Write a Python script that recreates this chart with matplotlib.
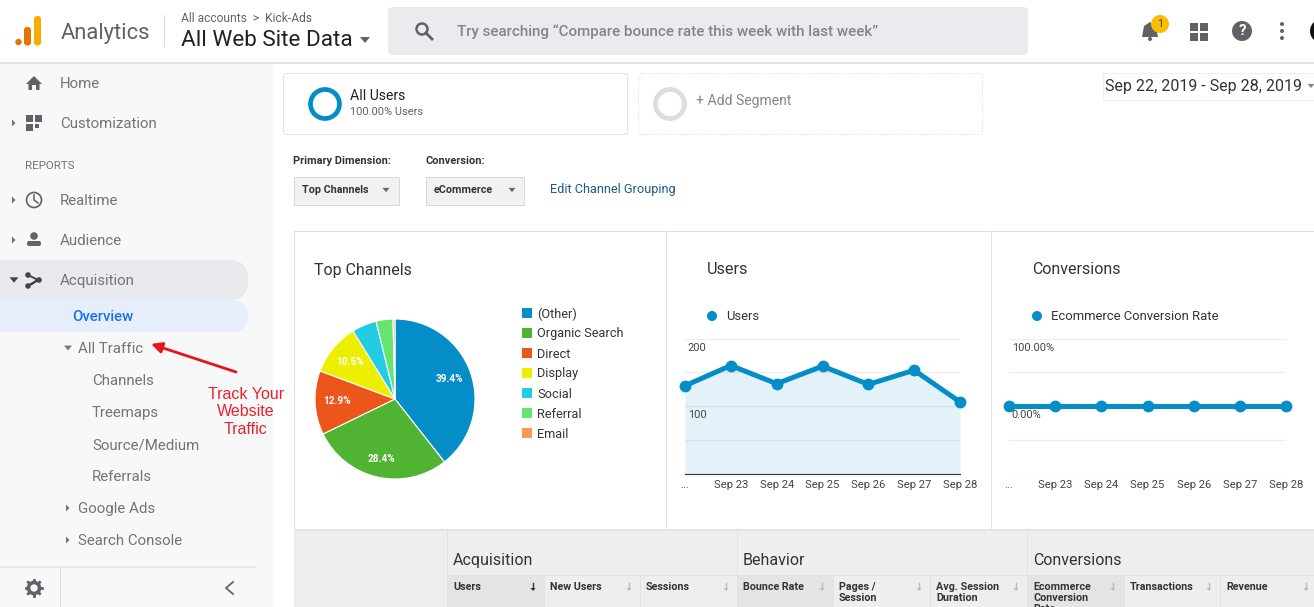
import matplotlib
matplotlib.use("Agg")
import matplotlib.pyplot as plt
from matplotlib.patches import Rectangle, FancyBboxPatch, Circle, Polygon

W, H = 1314, 607

# ---------------------------------
# Data
# ---------------------------------
channels = ["(Other)", "Organic Search", "Direct", "Display", "Social", "Referral", "Email"]
channel_share = [39.4, 28.4, 12.9, 10.5, 5.0, 3.4, 0.4]
channel_colors = ["#058dc7", "#50b432", "#ed561b", "#edef00", "#24cbe5", "#64e572", "#ff9655"]
share_labels = ["39.4%", "28.4%", "12.9%", "10.5%"]

day_labels = ["...", "Sep 23", "Sep 24", "Sep 25", "Sep 26", "Sep 27", "Sep 28"]
users = [130, 160, 133, 159, 132, 153, 106]
conv_rate = [0, 0, 0, 0, 0, 0, 0]

nav_main = ["Home", "Customization"]
nav_reports = ["Realtime", "Audience", "Acquisition"]
nav_traffic = ["Channels", "Treemaps", "Source/Medium", "Referrals"]
nav_more = ["Google Ads", "Search Console"]

table_groups = ["Acquisition", "Behavior", "Conversions"]
table_cols = ["Users", "New Users", "Sessions", "Bounce Rate", "Pages /\nSession",
              "Avg. Session\nDuration", "Ecommerce\nConversion\nRate", "Transactions", "Revenue"]

plt.rcParams["font.family"] = ["Roboto", "DejaVu Sans"]
BLUE = "#058dc7"
GREY = "#5f6368"
DARK = "#212121"

fig = plt.figure(figsize=(W / 100, H / 100), dpi=100)
bg = fig.add_axes([0, 0, 1, 1])
bg.set_xlim(0, W)
bg.set_ylim(H, 0)
bg.axis("off")


def px(size):
    return size * 0.72


def txt(x, y, s, size=13, color=DARK, ha="left", va="center", **kw):
    return bg.text(x, y + 1, s, fontsize=px(size), color=color, ha=ha, va=va, **kw)


def box(x0, y0, x1, y1, fc="none", ec="none", lw=0.72, z=1, **kw):
    bg.add_patch(Rectangle((x0, y0), x1 - x0, y1 - y0, fc=fc, ec=ec, lw=lw, zorder=z, **kw))


def rbox(x0, y0, x1, y1, r, fc="none", ec="none", lw=0.72, z=1, **kw):
    bg.add_patch(FancyBboxPatch((x0 + r, y0 + r), x1 - x0 - 2 * r, y1 - y0 - 2 * r,
                                boxstyle=f"round,pad={r},rounding_size={r}",
                                fc=fc, ec=ec, lw=lw, zorder=z, **kw))


def tri(x, y, s, kind="right", color="#757575"):
    if kind == "right":
        pts = [(x, y - s), (x + s, y), (x, y + s)]
    else:
        pts = [(x - s, y - s * 0.6), (x + s, y - s * 0.6), (x, y + s * 0.6)]
    bg.add_patch(Polygon(pts, fc=color, ec="none", zorder=4))


def sub_axes(x0, y0, x1, y1):
    return fig.add_axes([x0 / W, 1 - y1 / H, (x1 - x0) / W, (y1 - y0) / H])


# ---------------------------------
# Header
# ---------------------------------
box(0, 62, W, 64, fc="#e4e5e8", z=2)
bg.add_patch(Circle((18.5, 42), 3.2, fc="#e37400", ec="none"))
rbox(24, 27, 31, 45.5, 3, fc="#e37400")
rbox(34, 16, 41, 45.5, 3, fc="#f9ab00")
txt(61, 33, "Analytics", 22, "#5f6368")
box(164, 15, 165, 47, fc="#dadce0")
txt(181, 17, "All accounts  >  Kick-Ads", 12, "#5f6368")
txt(181, 39, "All Web Site Data", 22.5, DARK)
tri(365, 40, 5, "down", "#5f6368")

rbox(388, 7, 1028, 55, 5, fc="#e9ebee")
bg.add_patch(Circle((422, 29), 5.5, fc="none", ec=GREY, lw=1.8, zorder=3))
bg.plot([426, 432], [33, 39], color=GREY, lw=2, zorder=3)
txt(457, 31, "Try searching “Compare bounce rate this week with last week”", 15.15, "#80868b",
    fontweight="medium")

# bell, apps, help, menu, avatar
bg.add_patch(Polygon([(1142, 37), (1144, 26), (1150, 22), (1156, 26), (1158, 37)],
                     fc=GREY, ec="none", zorder=3))
bg.add_patch(Circle((1150, 39), 2, fc=GREY, ec="none", zorder=3))
bg.add_patch(Circle((1160, 24), 9, fc="#fbbc04", ec="none", zorder=4))
txt(1160, 23, "1", 11, "#444444", ha="center", zorder=5)
for gx in (1190, 1200):
    for gy in (23, 33):
        box(gx, gy, gx + 7.5, gy + 7.5, fc=GREY, z=3)
bg.add_patch(Circle((1242, 31), 10, fc=GREY, ec="none", zorder=3))
txt(1242, 30, "?", 15, "white", ha="center", fontweight="bold", zorder=4)
for gy in (24, 31, 38):
    bg.add_patch(Circle((1282, gy), 2, fc=GREY, ec="none", zorder=3))
bg.add_patch(Circle((1322, 31), 12, fc="#111111", ec="none", zorder=3))

# ---------------------------------
# Sidebar
# ---------------------------------
box(0, 64, 273, H, fc="#f7f8fa", z=0)
NAV = "#70757a"
txt(60, 83, nav_main[0], 15, NAV)
txt(60, 123, nav_main[1], 15, NAV)
txt(25, 165, "REPORTS", 11.5, NAV)

rbox(-30, 260, 248, 300, 19, fc="#e8eaed")
rbox(-30, 300, 248, 332, 16, fc="#e6eefb")

for yy, name in zip((200, 240, 280), nav_reports):
    txt(60, yy, name, 15, NAV)
txt(72, 316, "Overview", 15, "#1a73e8", fontweight="medium")
txt(78, 348, "All Traffic", 15, NAV)
for yy, name in zip((380, 412, 444, 476), nav_traffic):
    txt(92, yy, name, 15, NAV)
for yy, name in zip((508, 540), nav_more):
    txt(78, yy, name, 15, NAV)
    tri(66, yy, 3.5)

for yy in (123, 200, 240):
    tri(12, yy, 3.5)
tri(14, 280, 4.5, "down", "#444444")
tri(68, 348, 4, "down")

# sidebar icons
bg.add_patch(Polygon([(26, 84), (34, 76), (42, 84), (39.5, 84), (39.5, 90), (36, 90), (36, 85),
                      (32, 85), (32, 90), (28.5, 90), (28.5, 84)], fc=GREY, ec="none", zorder=3))
box(26, 115, 33, 122, fc=GREY, z=3)
box(35, 115, 42, 122, fc=GREY, z=3)
box(26, 124, 33, 131, fc=GREY, z=3)
box(35, 124, 39, 128, fc=GREY, z=3)
bg.add_patch(Circle((34, 200), 7.5, fc="none", ec=GREY, lw=1.2, zorder=3))
bg.plot([34, 34, 38], [195, 200, 203], color=GREY, lw=1.1, zorder=3)
bg.add_patch(Circle((34, 236), 3.8, fc=GREY, ec="none", zorder=3))
rbox(27, 241, 41, 246, 2, fc=GREY, z=3)
bg.plot([28, 38, 28, 38], [275, 280, 286, 280], color="#444444", lw=1.4, zorder=3)
for cx, cy in ((28, 275), (39, 280), (28, 286)):
    bg.add_patch(Circle((cx, cy), 2.8, fc="#444444", ec="none", zorder=3))

# arrow and note
bg.annotate("", xy=(151, 344), xytext=(236, 372), zorder=6,
            arrowprops=dict(arrowstyle="-|>", color="#e8141c", lw=2, mutation_scale=16, shrinkA=0, shrinkB=0))
bg.text(246, 412, "Track Your\nWebsite\nTraffic", fontsize=px(16), color="#e8232a", ha="center",
        va="center", family="Liberation Sans", linespacing=1.22, zorder=6)

# footer of sidebar
box(0, 566, 256, 568, fc="#e6e7ea", z=2)
box(60, 568, 61, H, fc="#dfe0e3", z=2)
bg.add_patch(Circle((34, 588), 5.5, fc="none", ec=GREY, lw=2.6, zorder=3))
for dx, dy in ((0, 8), (0, -8), (8, 0), (-8, 0), (5.7, 5.7), (-5.7, 5.7), (5.7, -5.7), (-5.7, -5.7)):
    bg.plot([34 + dx * 0.8, 34 + dx], [588 + dy * 0.8, 588 + dy], color=GREY, lw=2, zorder=3)
bg.plot([233, 226, 233], [582, 588, 594], color=GREY, lw=1.3, zorder=3)

# ---------------------------------
# Segments and controls
# ---------------------------------
rbox(283.5, 73.5, 627.5, 134.5, 3, fc="white", ec="#dcdee1", lw=0.6)
bg.add_patch(Circle((325, 104), 14.5, fc="none", ec=BLUE, lw=3.4, zorder=3))
txt(350, 95, "All Users", 14, DARK)
txt(350, 111, "100.00% Users", 11, "#5f6368")
rbox(638.5, 73.5, 982.5, 134.5, 3, fc="white", ec="#dcdee1", lw=0.6, ls=(0, (2, 2)))
bg.add_patch(Circle((670, 104), 14.5, fc="none", ec="#dddddd", lw=3.4, zorder=3))
txt(696, 100, "+ Add Segment", 14, "#80868b")

box(1102.5, 72.5, W + 5, 100, fc="white", ec="#efefef", z=1)
txt(1105, 85.5, "Sep 22, 2019 - Sep 28, 2019", 16, "#333333")
tri(1311, 86, 3.5, "down", "#888888")

txt(293, 160, "Primary Dimension:", 11, "#333333", fontweight="bold")
txt(425, 160, "Conversion:", 11, "#333333", fontweight="bold")
box(293.5, 176.5, 398.5, 204.5, fc="#f1f1f1", ec="#d9d9d9")
box(425.5, 176.5, 523.5, 204.5, fc="#f1f1f1", ec="#d9d9d9")
txt(302, 189, "Top Channels", 10.8, "#333333", fontweight="bold")
txt(434, 189, "eCommerce", 10.8, "#333333", fontweight="bold")
tri(386, 190, 3.5, "down", "#666666")
tri(512, 190, 3.5, "down", "#666666")
txt(550, 189, "Edit Channel Grouping", 12.8, "#22588c")

# ---------------------------------
# Chart panels
# ---------------------------------
box(293.5, 230.5, 1320, 530, fc="white", ec="#dddddd")
box(666, 231, 667, 530, fc="#e2e2e2", z=2)
box(991, 231, 992, 530, fc="#e2e2e2", z=2)
txt(314, 269, "Top Channels", 16, "#333333")
txt(707, 269, "Users", 16.3, "#333333")
txt(1032, 269, "Conversions", 16, "#333333")

# pie chart
ax_pie = sub_axes(315, 319, 475, 479)
ax_pie.pie(channel_share, colors=channel_colors, startangle=90, counterclock=False, radius=1,
           wedgeprops=dict(edgecolor="white", linewidth=0.8))
ax_pie.set_xlim(-1, 1)
ax_pie.set_ylim(-1, 1)
for lab, (lx, ly) in zip(share_labels, [(449, 379), (381, 459), (337, 401), (350, 362)]):
    ax_pie.text((lx - 395) / 80, (399 - ly) / 80, lab, fontsize=px(10), color="white",
                ha="center", va="center", fontweight="bold", zorder=7)

for i, name in enumerate(channels):
    yy = 313 + i * 20
    box(522, yy - 5, 532, yy + 5, fc=channel_colors[i], z=3)
    txt(537, yy, name, 12.8, "#333333")

# line charts
bg.add_patch(Circle((712, 316), 5, fc=BLUE, ec="none"))
txt(726, 316, "Users", 13, "#333333")
bg.add_patch(Circle((1037, 316), 5, fc=BLUE, ec="none"))
txt(1051, 316, "Ecommerce Conversion Rate", 13, "#333333")


def line_chart(x0, x1, values, ymin, ymax, fill, dark_base):
    ax = sub_axes(x0, 338.5, x1, 473.5)
    ax.patch.set_alpha(0)
    xs = list(range(len(values)))
    ax.set_xlim(0, len(values) - 1)
    ax.set_ylim(ymin, ymax)
    step = (ymax - ymin) / 4
    for k in range(5):
        ax.axhline(ymin + k * step, color="#eeeeee", lw=1, zorder=1)
    if fill:
        ax.fill_between(xs, values, ymin, color=BLUE, alpha=0.11, lw=0, zorder=2)
    ax.plot(xs, values, color=BLUE, lw=3.6, marker="o", ms=7.5, clip_on=False, zorder=4)
    ax.set_xticks(xs)
    ax.set_xticklabels(day_labels, fontsize=px(11.2), color="#444444")
    ax.set_yticks([])
    ax.tick_params(axis="x", length=0, pad=5)
    for side, sp in ax.spines.items():
        sp.set_visible(side == "bottom" and dark_base)
    ax.spines["bottom"].set_color("#333333")
    return ax


ax_users = line_chart(685, 960, users, 0, 200, True, True)
ax_conv = line_chart(1009, 1286, conv_rate, -100, 100, False, False)
ax_users.text(0.01, 0.93, "200", transform=ax_users.transAxes, fontsize=px(11), color="#444444", va="center")
ax_users.text(0.01, 0.43, "100", transform=ax_users.transAxes, fontsize=px(11), color="#444444", va="center", zorder=5)
ax_conv.text(0.01, 0.93, "100.00%", transform=ax_conv.transAxes, fontsize=px(11), color="#444444", va="center")
ax_conv.text(0.01, 0.43, "0.00%", transform=ax_conv.transAxes, fontsize=px(11), color="#444444", va="center", zorder=5)

# ---------------------------------
# Table header
# ---------------------------------
box(294, 530, W, H, fc="#eeeeee", z=1)
box(294, 529, W, 531, fc="#e4e4e4", z=2)
box(447, 575, W, 576, fc="#e2e2e2", z=2)
group_x = [447, 737, 1027]
for gx, name in zip(group_x, table_groups):
    box(gx, 531, gx + 1, H, fc="#e2e2e2", z=2)
    txt(gx + 6, 559.5, name, 16, "#333333")

col_x = [447, 544, 640, 737, 833, 930, 1027, 1124, 1220, 1317]
for i, name in enumerate(table_cols):
    if i % 3 == 0:
        box(col_x[i], 576, col_x[i + 1], H, fc="#e4e4e4", z=1)
    box(col_x[i], 576, col_x[i] + 1, H, fc="#e2e2e2", z=2)
    bg.text(col_x[i] + 6, 582, name, fontsize=px(10.8), color="#333333", fontweight="bold",
            ha="left", va="top", linespacing=1.15, clip_on=True, zorder=3)
    ax_col = "#333333" if i == 0 else "#bbbbbb"
    ar_x = col_x[i + 1] - 11
    bg.plot([ar_x, ar_x], [583, 589], color=ax_col, lw=1, zorder=3)
    bg.add_patch(Polygon([(ar_x - 2.5, 588), (ar_x + 2.5, 588), (ar_x, 591)], fc=ax_col, ec="none", zorder=3))

fig.savefig("out.png", dpi=100)
